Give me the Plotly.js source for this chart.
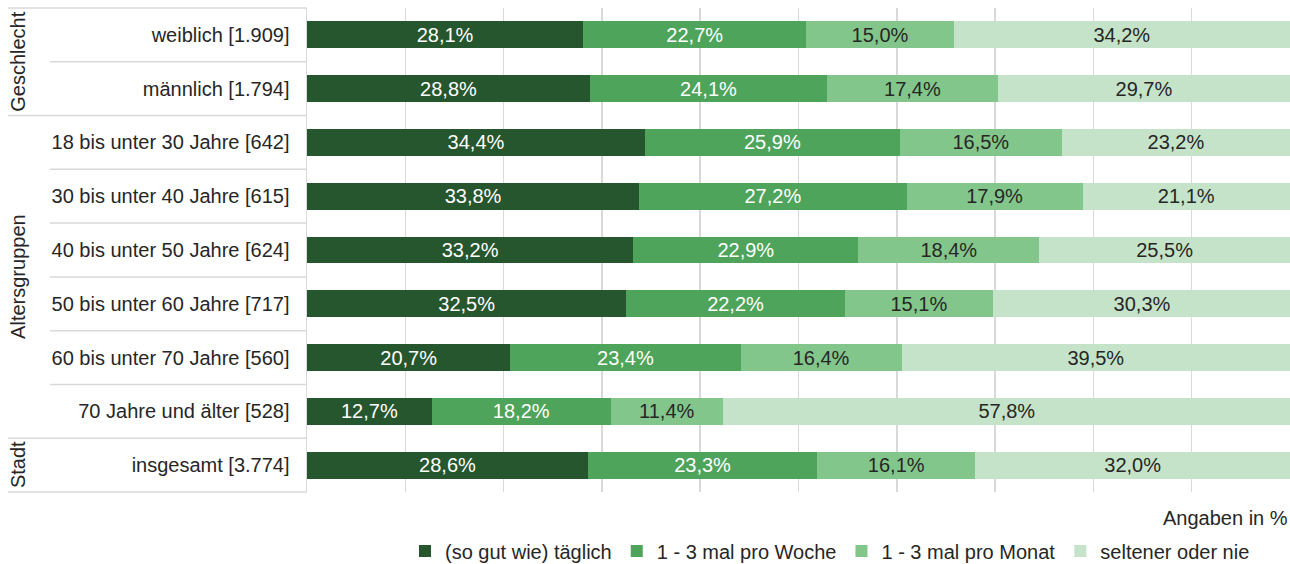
<!DOCTYPE html>
<html>
<head>
<meta charset="utf-8">
<script src="https://cdn.plot.ly/plotly-3.0.1.min.js"></script>
<style>html,body{margin:0;padding:0;background:#fff;}#chart{width:1290px;height:564px;}</style>
</head>
<body>
<div id="chart"></div>
<script>
// Categories (top to bottom)
const categories = [
  "weiblich [1.909]",
  "männlich [1.794]",
  "18 bis unter 30 Jahre [642]",
  "30 bis unter 40 Jahre [615]",
  "40 bis unter 50 Jahre [624]",
  "50 bis unter 60 Jahre [717]",
  "60 bis unter 70 Jahre [560]",
  "70 Jahre und älter [528]",
  "insgesamt [3.774]"
];
// Group labels: name, first index, last index
const groupNames = ["Geschlecht", "Altersgruppen", "Stadt"];
const groupStart = [0, 2, 8];
const groupEnd = [1, 7, 8];

const seriesNames = ["(so gut wie) täglich", "1 - 3 mal pro Woche", "1 - 3 mal pro Monat", "seltener oder nie"];
const taeglich = [28.1, 28.8, 34.4, 33.8, 33.2, 32.5, 20.7, 12.7, 28.6];
const woche    = [22.7, 24.1, 25.9, 27.2, 22.9, 22.2, 23.4, 18.2, 23.3];
const monat    = [15.0, 17.4, 16.5, 17.9, 18.4, 15.1, 16.4, 11.4, 16.1];
const selten   = [34.2, 29.7, 23.2, 21.1, 25.5, 30.3, 39.5, 57.8, 32.0];

const colors = ["#26562e", "#4ea45a", "#83c68b", "#c4e3c8"];
const textColors = ["#ffffff", "#ffffff", "#262626", "#262626"];
const FONT = "Liberation Sans, Arial, sans-serif";
const FS = 20;

const seriesValues = [taeglich, woche, monat, selten];
const fmt = v => v.toFixed(1).replace('.', ',') + '%';

const traces = seriesValues.map((vals, i) => ({
  type: 'bar',
  orientation: 'h',
  name: seriesNames[i],
  y: categories,
  x: vals,
  width: 0.5,
  marker: {color: colors[i], line: {width: 0}},
  text: vals.map(fmt),
  textposition: 'inside',
  insidetextanchor: 'middle',
  textangle: 0,
  constraintext: 'none',
  insidetextfont: {family: FONT, size: FS, color: textColors[i]},
  hoverinfo: 'x+y+name'
}));

const n = categories.length;
const L = 307, W = 1290, R = 0;
const plotW = W - L - R;
const px2paper = p => (p - L) / plotW;

const shapes = [];
// separators in label area
const groupBoundaries = new Set([0, n]);
groupStart.forEach(s => groupBoundaries.add(s));
for (let k = 0; k <= n; k++) {
  const isGroup = groupBoundaries.has(k);
  shapes.push({
    type: 'line', xref: 'paper', yref: 'paper',
    x0: px2paper(isGroup ? 8 : 50), x1: 0,
    y0: 1 - k / n, y1: 1 - k / n,
    line: {color: '#d9d9d9', width: 1.5}
  });
}

const annotations = groupNames.map((g, i) => ({
  text: g, xref: 'paper', yref: 'paper',
  x: px2paper(18), y: 1 - ((groupStart[i] + groupEnd[i] + 1) / 2) / n,
  xanchor: 'center', yanchor: 'middle', textangle: -90, showarrow: false,
  font: {family: FONT, size: FS, color: '#262626'}
}));
annotations.push({
  text: 'Angaben in %', xref: 'paper', yref: 'paper',
  x: 1, xanchor: 'right', y: -0.054, yanchor: 'middle', showarrow: false,
  font: {family: FONT, size: FS, color: '#262626'}
});

const layout = {
  width: 1290, height: 564,
  margin: {l: L, r: R, t: 8, b: 72, autoexpand: false},
  barmode: 'stack',
  paper_bgcolor: '#ffffff', plot_bgcolor: '#ffffff',
  font: {family: FONT, size: FS, color: '#262626'},
  showlegend: true,
  legend: {
    orientation: 'h', x: px2paper(405), xanchor: 'left',
    yref: 'container', y: 1 - 551 / 564, yanchor: 'middle',
    font: {family: FONT, size: FS, color: '#262626'}, traceorder: 'normal',
    bgcolor: 'rgba(0,0,0,0)'
  },
  xaxis: {
    range: [0, 100], dtick: 10, tick0: 0, showticklabels: false,
    showgrid: true, gridcolor: '#d9d9d9', gridwidth: 1.5,
    zeroline: false, showline: false, fixedrange: true
  },
  yaxis: {
    type: 'category', range: [n - 0.5, -0.5], autorange: false,
    showline: true, linecolor: '#d9d9d9', linewidth: 1.5,
    showgrid: false, zeroline: false, ticks: '', ticklabelstandoff: 12,
    tickfont: {family: FONT, size: FS, color: '#262626'}, fixedrange: true
  },
  shapes: shapes,
  annotations: annotations,
  bargap: 0.5
};

Plotly.newPlot('chart', traces, layout, {displayModeBar: false, staticPlot: true});
</script>
</body>
</html>
